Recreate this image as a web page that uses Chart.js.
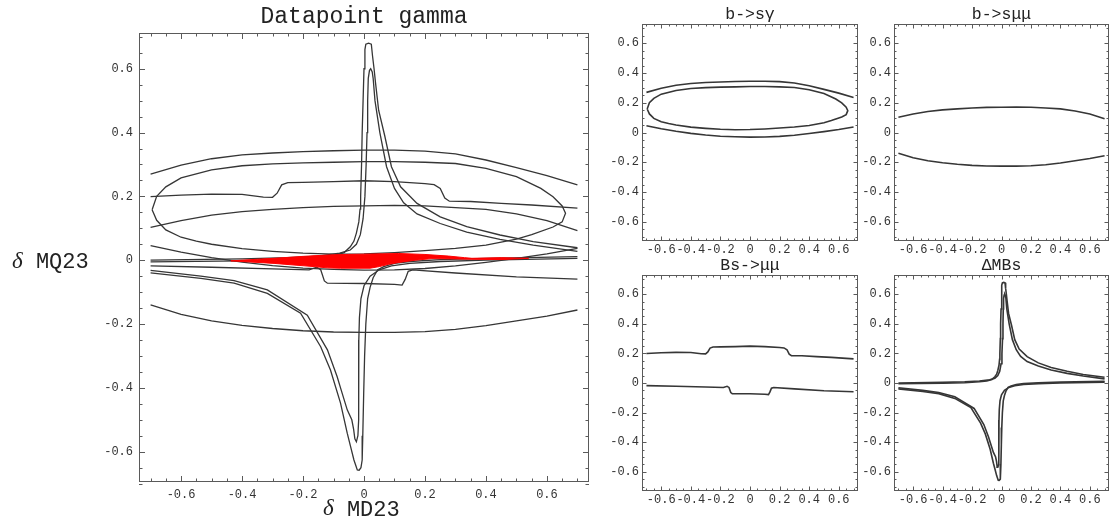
<!DOCTYPE html>
<html><head><meta charset="utf-8">
<script src="https://cdn.jsdelivr.net/npm/chart.js@4.4.1/dist/chart.umd.min.js"></script>
<style>
html,body{margin:0;padding:0;background:#fff;width:1110px;height:523px;overflow:hidden}
canvas{position:absolute;display:block}
</style></head><body>
<canvas id="c0" width="600" height="523" style="left:0;top:0"></canvas>
<canvas id="c1" width="260" height="258" style="left:600px;top:0"></canvas>
<canvas id="c2" width="248" height="258" style="left:862px;top:0"></canvas>
<canvas id="c3" width="260" height="265" style="left:600px;top:258px"></canvas>
<canvas id="c4" width="248" height="265" style="left:862px;top:258px"></canvas>
<script>
// ---------- tick values and labels ----------
const majorTicks = [-0.6,-0.4,-0.2,0,0.2,0.4,0.6];
const tickLabels = ['-0.6','-0.4','-0.2','0','0.2','0.4','0.6'];
const minorTicks = [-0.7,-0.65,-0.55,-0.5,-0.45,-0.35,-0.3,-0.25,-0.15,-0.1,-0.05,0.05,0.1,0.15,0.25,0.3,0.35,0.45,0.5,0.55,0.65,0.7];

// ---------- titles ----------
const mainTitle = 'Datapoint gamma';
const xAxisName = 'MD23';
const yAxisName = 'MQ23';
const panelTitles = ['b->sγ','b->sμμ','Bs->μμ','ΔMBs'];

// ---------- b->s gamma contours ----------
const bsgUpper = [[-0.7,0.27],[-0.6,0.298],[-0.5,0.318],[-0.4,0.33],[-0.3,0.336],[-0.2,0.34],[-0.1,0.343],[0,0.345],[0.1,0.345],[0.2,0.342],[0.3,0.333],[0.4,0.314],[0.5,0.29],[0.6,0.265],[0.7,0.236]];
const bsgEllipse = [[-0.695,0.158],[-0.68,0.2],[-0.65,0.23],[-0.6,0.258],[-0.5,0.283],[-0.4,0.296],[-0.3,0.302],[-0.2,0.305],[-0.1,0.307],[0,0.309],[0.1,0.309],[0.2,0.307],[0.3,0.303],[0.4,0.288],[0.5,0.262],[0.58,0.225],[0.62,0.199],[0.65,0.17],[0.661,0.147],[0.65,0.12],[0.62,0.104],[0.55,0.08],[0.5,0.066],[0.4,0.047],[0.3,0.037],[0.2,0.03],[0.1,0.024],[0,0.02],[-0.1,0.019],[-0.2,0.022],[-0.3,0.028],[-0.4,0.036],[-0.5,0.05],[-0.55,0.06],[-0.6,0.072],[-0.65,0.095],[-0.68,0.125],[-0.695,0.158]];
const bsgLower = [[-0.7,0.046],[-0.6,0.025],[-0.5,0.008],[-0.4,-0.006],[-0.3,-0.017],[-0.2,-0.025],[-0.1,-0.029],[0,-0.031],[0.1,-0.03],[0.2,-0.026],[0.3,-0.018],[0.4,-0.007],[0.5,0.006],[0.6,0.02],[0.7,0.037]];

// ---------- b->s mu mu contours ----------
const bsmmUpper = [[-0.7,0.103],[-0.6,0.124],[-0.5,0.141],[-0.4,0.152],[-0.3,0.159],[-0.2,0.165],[-0.1,0.169],[0,0.17],[0.1,0.172],[0.2,0.17],[0.3,0.165],[0.4,0.159],[0.5,0.145],[0.6,0.124],[0.7,0.093]];
const bsmmLower = [[-0.7,-0.14],[-0.6,-0.17],[-0.5,-0.19],[-0.4,-0.204],[-0.3,-0.214],[-0.2,-0.221],[-0.1,-0.225],[0,-0.226],[0.1,-0.226],[0.2,-0.224],[0.3,-0.217],[0.4,-0.205],[0.5,-0.19],[0.6,-0.175],[0.7,-0.156]];

// ---------- Bs -> mu mu contours ----------
const bsUpper = [[-0.7,0.199],[-0.6,0.204],[-0.5,0.207],[-0.4,0.206],[-0.33,0.198],[-0.3,0.197],[-0.285,0.21],[-0.27,0.236],[-0.25,0.243],[-0.2,0.244],[-0.1,0.246],[0,0.249],[0.1,0.246],[0.2,0.24],[0.23,0.237],[0.25,0.225],[0.265,0.195],[0.28,0.185],[0.35,0.184],[0.45,0.178],[0.55,0.173],[0.7,0.163]];
const bsLower = [[-0.7,-0.018],[-0.5,-0.022],[-0.3,-0.027],[-0.18,-0.03],[-0.155,-0.022],[-0.142,-0.03],[-0.13,-0.065],[-0.12,-0.072],[0,-0.073],[0.1,-0.076],[0.125,-0.078],[0.135,-0.06],[0.145,-0.035],[0.16,-0.03],[0.3,-0.04],[0.5,-0.052],[0.7,-0.059]];

// ---------- Delta M_Bs contours ----------
const dmUpOuter = [[-0.7,-0.005],[-0.4,-0.002],[-0.25,0.002],[-0.15,0.008],[-0.1,0.014],[-0.065,0.024],[-0.045,0.042],[-0.033,0.06],[-0.025,0.085],[-0.017,0.12],[-0.013,0.16],[-0.011,0.2],[-0.008,0.3],[-0.006,0.4],[-0.003,0.5],[0,0.6],[0.003,0.66],[0.006,0.677],[0.015,0.68],[0.024,0.677],[0.028,0.64],[0.033,0.6],[0.038,0.554],[0.048,0.47],[0.068,0.39],[0.09,0.293],[0.12,0.23],[0.174,0.178],[0.25,0.136],[0.337,0.105],[0.446,0.079],[0.555,0.058],[0.7,0.039]];
const dmUpInner = [[-0.7,0.0],[-0.4,0.004],[-0.25,0.008],[-0.15,0.013],[-0.08,0.022],[-0.045,0.032],[-0.025,0.05],[-0.012,0.08],[-0.003,0.13],[0.003,0.2],[0.007,0.3],[0.01,0.4],[0.012,0.5],[0.014,0.57],[0.018,0.595],[0.022,0.6],[0.027,0.59],[0.03,0.57],[0.036,0.5],[0.044,0.45],[0.052,0.4],[0.074,0.293],[0.1,0.225],[0.13,0.18],[0.174,0.145],[0.25,0.115],[0.337,0.088],[0.446,0.065],[0.555,0.047],[0.7,0.028]];
const dmLowOuter = [[0.7,0.011],[0.4,0.006],[0.25,0.002],[0.15,-0.004],[0.1,-0.01],[0.065,-0.02],[0.045,-0.03],[0.03,-0.055],[0.02,-0.085],[0.012,-0.12],[0.006,-0.2],[0.002,-0.3],[-0.001,-0.417],[-0.004,-0.55],[-0.006,-0.626],[-0.01,-0.65],[-0.016,-0.658],[-0.022,-0.657],[-0.028,-0.64],[-0.033,-0.626],[-0.045,-0.58],[-0.055,-0.542],[-0.077,-0.448],[-0.11,-0.344],[-0.142,-0.271],[-0.208,-0.166],[-0.317,-0.104],[-0.426,-0.072],[-0.535,-0.057],[-0.7,-0.04]];
const dmLowInner = [[0.7,0.006],[0.4,0.0],[0.25,-0.004],[0.15,-0.01],[0.09,-0.018],[0.05,-0.03],[0.02,-0.05],[0.0,-0.08],[-0.01,-0.12],[-0.015,-0.18],[-0.017,-0.25],[-0.017,-0.4],[-0.018,-0.5],[-0.02,-0.55],[-0.025,-0.569],[-0.03,-0.56],[-0.034,-0.53],[-0.04,-0.5],[-0.055,-0.469],[-0.077,-0.4],[-0.088,-0.365],[-0.12,-0.281],[-0.186,-0.172],[-0.317,-0.093],[-0.426,-0.064],[-0.535,-0.05],[-0.7,-0.032]];

// ---------- allowed (red) region ----------
const allowedRegion = [[-0.437,-0.002],[-0.35,0.003],[-0.295,0.006],[-0.2,0.012],[-0.164,0.014],[-0.1,0.017],[-0.05,0.018],[0,0.019],[0.06,0.02],[0.114,0.021],[0.2,0.018],[0.277,0.013],[0.33,0.008],[0.354,0.006],[0.45,0.008],[0.54,0.006],[0.45,0.002],[0.354,0.003],[0.3,0.004],[0.223,0.005],[0.168,0.0],[0.114,-0.007],[0.08,-0.013],[0.05,-0.02],[0.02,-0.025],[0,-0.025],[-0.077,-0.025],[-0.12,-0.024],[-0.164,-0.02],[-0.295,-0.01],[-0.437,-0.002]];

const LINE = '#363636';
const TXT = '#333333';
const FRAME = '#5a5a5a';

function toXY(a){ return a.map(p => ({x:p[0], y:p[1]})); }

function makeChart(id, box, area, cfg) {
  const datasets = [];
  if (cfg.region) {
    datasets.push({data: toXY(cfg.region), showLine:true, fill:'shape', backgroundColor:'#ff0000', borderColor:'#ff0000', borderWidth:1, pointRadius:0, tension:0});
  }
  cfg.curves.forEach(c => datasets.push({data: toXY(c), showLine:true, fill:false, borderColor:LINE, borderWidth:cfg.lw, pointRadius:0, tension:0}));

  const decor = {
    id:'decor'+id,
    afterDatasetsDraw(chart) {
      const {ctx, chartArea:a, scales:{x, y}} = chart;
      ctx.save();
      ctx.strokeStyle = FRAME; ctx.lineWidth = 1;
      ctx.strokeRect(a.left+0.5, a.top+0.5, a.right-a.left-1, a.bottom-a.top-1);
      ctx.beginPath();
      const draw = (vals, len) => {
        vals.forEach(v => {
          const px = Math.round(x.getPixelForValue(v)) + 0.5;
          ctx.moveTo(px, a.bottom); ctx.lineTo(px, a.bottom - len);
          ctx.moveTo(px, a.top); ctx.lineTo(px, a.top + len);
          const py = Math.round(y.getPixelForValue(v)) + 0.5;
          ctx.moveTo(a.left, py); ctx.lineTo(a.left + len, py);
          ctx.moveTo(a.right, py); ctx.lineTo(a.right - len, py);
        });
      };
      draw(majorTicks, cfg.majLen);
      draw(minorTicks, cfg.minLen);
      ctx.stroke();
      // titles
      ctx.fillStyle = '#222';
      ctx.textBaseline = 'middle';
      ctx.textAlign = 'center';
      ctx.font = cfg.titleFont;
      ctx.fillText(cfg.title, (a.left + a.right)/2, a.top - cfg.titleGap);
      if (cfg.axisTitles) {
        const drawName = (lx, cy, name) => {
          ctx.textAlign = 'left';
          ctx.font = 'italic 23px "Liberation Serif"';
          ctx.fillText('δ', lx, cy);
          const w = ctx.measureText('δ').width;
          ctx.font = '22px "Liberation Mono"';
          ctx.fillText(' ' + name, lx + w, cy + 1);
        };
        drawName(a.left + cfg.xNameDx, a.bottom + cfg.xNameDy, xAxisName);
        drawName(cfg.yNameX, (a.top + a.bottom)/2 + cfg.yNameDy, yAxisName);
      }
      ctx.restore();
    }
  };

  const tickFont = {family:'Liberation Mono', size:12};
  new Chart(document.getElementById(id), {
    type:'scatter',
    data:{datasets},
    options:{
      responsive:false, animation:false, events:[],
      layout:{padding:{left:0, top:area.t-box.T, right:box.L+box.W-area.r, bottom:0}},
      plugins:{legend:{display:false}, tooltip:{enabled:false}, title:{display:false}},
      scales:{
        x:{type:'linear', min:cfg.xr[0], max:cfg.xr[1],
           afterFit:s=>{s.height = box.T+box.H-area.b;},
           afterBuildTicks:s=>{s.ticks = majorTicks.map(v=>({value:v}));},
           ticks:{callback:v=>tickLabels[majorTicks.indexOf(v)], font:tickFont, color:TXT, padding:cfg.xpad, maxRotation:0, minRotation:0, autoSkip:false},
           grid:{display:false, drawTicks:false}, border:{display:false}},
        y:{type:'linear', min:cfg.yr[0], max:cfg.yr[1],
           afterFit:s=>{s.width = area.l-box.L;},
           afterBuildTicks:s=>{s.ticks = majorTicks.map(v=>({value:v}));},
           ticks:{callback:v=>tickLabels[majorTicks.indexOf(v)], font:tickFont, color:TXT, padding:cfg.ypad, autoSkip:false},
           grid:{display:false, drawTicks:false}, border:{display:false}}
      }
    },
    plugins:[decor]
  });
}

const allCurves = [bsgUpper, bsgEllipse, bsgLower, bsmmUpper, bsmmLower, bsUpper, bsLower, dmUpOuter, dmUpInner, dmLowOuter, dmLowInner];

makeChart('c0', {L:0,T:0,W:600,H:523}, {l:139,t:33,r:589,b:482},
  {curves:allCurves, region:allowedRegion, lw:1.3, xr:[-0.738,0.738], yr:[-0.695,0.712],
   xpad:6, ypad:6, majLen:6, minLen:3.5, title:mainTitle, titleFont:'23px "Liberation Mono"', titleGap:16,
   axisTitles:true, xNameDx:184, xNameDy:27, yNameX:12, yNameDy:4});

const R = 0.73;
const small = {lw:1.6, xr:[-R,R], yr:[-R,R], xpad:2, ypad:3, majLen:4.5, minLen:2.5, titleFont:'16.5px "Liberation Mono"', titleGap:9.5};
makeChart('c1', {L:600,T:0,W:260,H:258}, {l:642,t:24,r:858,b:241}, Object.assign({}, small, {curves:[bsgUpper, bsgEllipse, bsgLower], title:panelTitles[0]}));
makeChart('c2', {L:862,T:0,W:248,H:258}, {l:894,t:24,r:1109,b:241}, Object.assign({}, small, {curves:[bsmmUpper, bsmmLower], title:panelTitles[1]}));
makeChart('c3', {L:600,T:258,W:260,H:265}, {l:642,t:275,r:858,b:491}, Object.assign({}, small, {curves:[bsUpper, bsLower], title:panelTitles[2]}));
makeChart('c4', {L:862,T:258,W:248,H:265}, {l:894,t:275,r:1109,b:491}, Object.assign({}, small, {curves:[dmUpOuter, dmUpInner, dmLowOuter, dmLowInner], title:panelTitles[3]}));
</script>
</body></html>
